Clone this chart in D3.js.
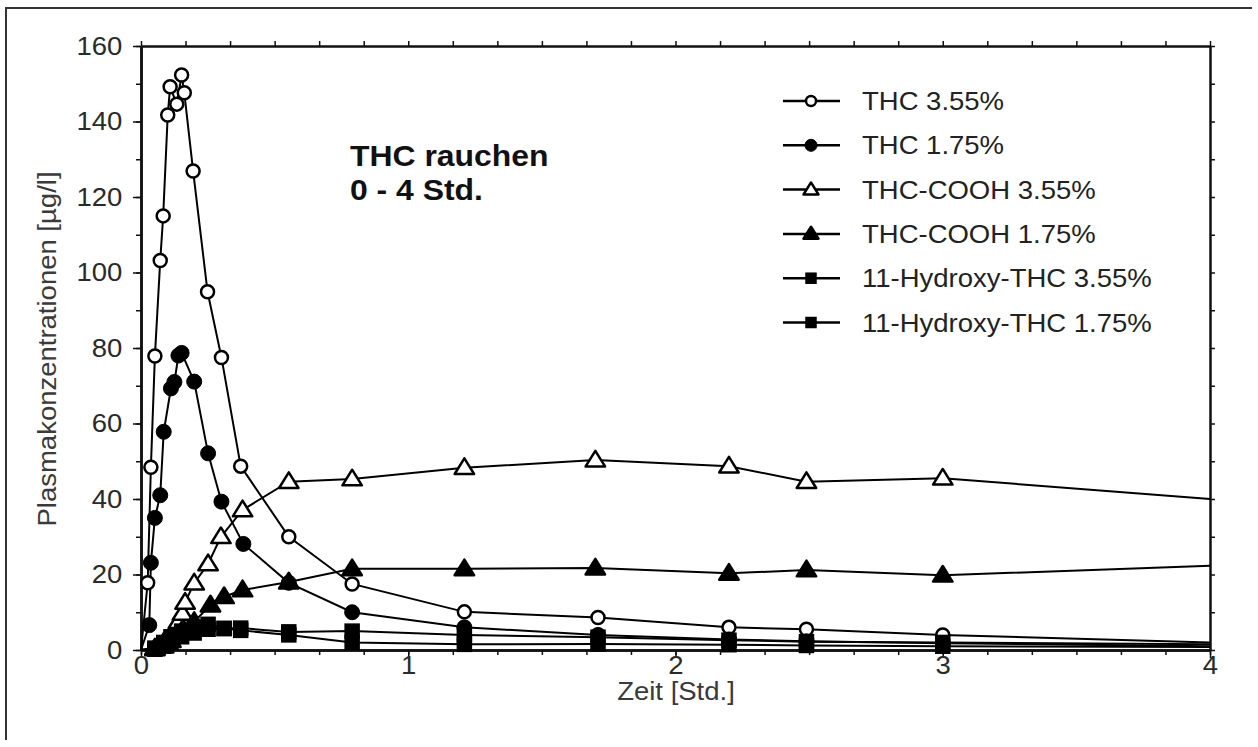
<!DOCTYPE html>
<html>
<head>
<meta charset="utf-8">
<script src="https://cdnjs.cloudflare.com/ajax/libs/d3/7.8.5/d3.min.js"></script>
<style>
body { margin: 0; background: #fff; }
text { font-family: "Liberation Sans", Arial, sans-serif; }
</style>
</head>
<body>
<div id="chart"></div>
<script>
// values (time in hours, concentration in µg/l)
var thc355Time = [0, 0.025, 0.037, 0.052, 0.072, 0.083, 0.100, 0.109, 0.134, 0.152, 0.162, 0.195, 0.249, 0.301, 0.373, 0.553, 0.79, 1.21, 1.71, 2.20, 2.49, 3.0, 4.0];
var thc355Val  = [0, 17.8, 48.4, 77.9, 103.2, 115, 141.7, 149.2, 144.6, 152.3, 147.6, 126.9, 94.9, 77.5, 48.7, 30, 17.5, 10.1, 8.6, 6, 5.5, 4, 2];

var thc175Time = [0, 0.031, 0.037, 0.052, 0.072, 0.085, 0.112, 0.125, 0.14, 0.152, 0.199, 0.251, 0.301, 0.383, 0.553, 0.79, 1.21, 1.71, 2.20, 2.49, 3.0, 4.0];
var thc175Val  = [0, 6.6, 23.1, 35, 41, 57.8, 69.3, 71, 78, 78.7, 71.1, 52.1, 39.3, 28.1, 17.8, 10, 6, 4, 2.8, 2.3, 1.8, 1];

var cooh355Time = [0, 0.052, 0.085, 0.112, 0.14, 0.155, 0.165, 0.199, 0.251, 0.299, 0.38, 0.553, 0.79, 1.21, 1.70, 2.2, 2.49, 3.0, 4.0];
var cooh355Val  = [0, 0.5, 2, 4, 7.5, 9.7, 12.6, 17.7, 22.8, 30, 37.1, 44.6, 45.3, 48.3, 50.3, 48.7, 44.6, 45.5, 40];

var cooh175Time = [0, 0.052, 0.085, 0.112, 0.152, 0.199, 0.26, 0.311, 0.38, 0.553, 0.79, 1.21, 1.70, 2.2, 2.49, 3.0, 4.0];
var cooh175Val  = [0, 0.3, 1, 2.5, 5, 7.5, 11.9, 14.1, 15.9, 18, 21.5, 21.5, 21.7, 20.3, 21.2, 19.8, 22.3];

var oh355Time = [0, 0.052, 0.085, 0.112, 0.152, 0.199, 0.251, 0.311, 0.373, 0.553, 0.79, 1.21, 1.71, 2.2, 2.49, 3.0, 4.0];
var oh355Val  = [0, 0.5, 2, 3.5, 5, 6, 6.8, 5.7, 5.8, 4.8, 5, 4, 3.4, 2.6, 2.2, 2, 1.5];

var oh175Time = [0, 0.052, 0.085, 0.112, 0.152, 0.199, 0.251, 0.311, 0.373, 0.553, 0.79, 1.21, 1.71, 2.2, 2.49, 3.0, 4.0];
var oh175Val  = [0, 0.2, 1, 2, 3.5, 4.5, 5.5, 5.7, 5.2, 4, 2, 1.5, 1.6, 1.4, 1.2, 1, 0.8];

var seriesNames = ["THC 3.55%", "THC 1.75%", "THC-COOH 3.55%", "THC-COOH 1.75%", "11-Hydroxy-THC 3.55%", "11-Hydroxy-THC 1.75%"];
var seriesSymbols = ["circleOpen", "circle", "triangleOpen", "triangle", "square", "square"];

var xTicks = [0, 1, 2, 3, 4];
var yTicks = [0, 20, 40, 60, 80, 100, 120, 140, 160];

var titleLines = ["THC rauchen", "0 - 4 Std."];
var xTitle = "Zeit [Std.]";
var yTitle = "Plasmakonzentrationen [µg/l]";

var series = [
  [thc355Time, thc355Val], [thc175Time, thc175Val],
  [cooh355Time, cooh355Val], [cooh175Time, cooh175Val],
  [oh355Time, oh355Val], [oh175Time, oh175Val]
].map(function (s, i) {
  return {
    name: seriesNames[i],
    sym: seriesSymbols[i],
    pts: s[0].map(function (t, j) { return { t: t, v: s[1][j] }; })
  };
});

var width = 1258, height = 747;
var stretch = "scale(1.1,1)";

var svg = d3.select("#chart").append("svg")
    .attr("width", width)
    .attr("height", height);

// frame of the scan
svg.append("path")
    .attr("d", "M6,740V8H1252")
    .attr("fill", "none")
    .attr("stroke", "#333")
    .attr("stroke-width", 2);

var x = d3.scaleLinear().domain([0, 4]).range([141, 1210]);
var y = d3.scaleLinear().domain([0, 160]).range([650, 46]);

var minorX = d3.range(0, 24.5).map(function (d) { return d / 6; });
var minorY = d3.range(0, 161, 10);

function styleAxis(g) {
  g.select(".domain").attr("stroke", "#111").attr("stroke-width", 2.5);
  g.selectAll(".tick line").attr("stroke", "#111").attr("stroke-width", 1.5);
}

// minor ticks all four sides
svg.append("g").attr("transform", "translate(0,650)")
    .call(d3.axisBottom(x).tickValues(minorX).tickSize(5).tickFormat("").tickSizeOuter(0))
    .call(styleAxis);
svg.append("g").attr("transform", "translate(0,46)")
    .call(d3.axisTop(x).tickValues(minorX).tickSize(5).tickFormat("").tickSizeOuter(0))
    .call(styleAxis);
svg.append("g").attr("transform", "translate(141,0)")
    .call(d3.axisLeft(y).tickValues(minorY).tickSize(5).tickFormat("").tickSizeOuter(0))
    .call(styleAxis);
svg.append("g").attr("transform", "translate(1210,0)")
    .call(d3.axisRight(y).tickValues(minorY).tickSize(5).tickFormat("").tickSizeOuter(0))
    .call(styleAxis);

// major ticks + labels
var xAxis = svg.append("g").attr("transform", "translate(0,650)")
    .call(d3.axisBottom(x).tickValues(xTicks).tickSize(8).tickFormat(d3.format("d")).tickSizeOuter(0))
    .call(styleAxis);
xAxis.selectAll("text")
    .attr("y", 6).attr("dy", "0.71em")
    .attr("transform", stretch)
    .attr("font-size", 25).attr("fill", "#2a2a2a");

var yAxis = svg.append("g").attr("transform", "translate(141,0)")
    .call(d3.axisLeft(y).tickValues(yTicks).tickSize(8).tickPadding(9).tickSizeOuter(0))
    .call(styleAxis);
yAxis.selectAll("text")
    .attr("transform", stretch)
    .attr("font-size", 25).attr("fill", "#2a2a2a");

// axis titles
svg.append("text")
    .attr("transform", "translate(676,700) " + stretch)
    .attr("text-anchor", "middle")
    .attr("font-size", 25)
    .attr("fill", "#3a3a3a")
    .text(xTitle);

svg.append("text")
    .attr("transform", "translate(56,349) rotate(-90) " + stretch)
    .attr("text-anchor", "middle")
    .attr("font-size", 25)
    .attr("fill", "#3a3a3a")
    .text(yTitle);

// inner title
svg.append("g").selectAll("text")
    .data(titleLines)
    .enter().append("text")
    .attr("transform", function (d, i) { return "translate(350," + (166 + i * 34) + ") " + stretch; })
    .attr("font-size", 29)
    .attr("font-weight", "bold")
    .attr("fill", "#111")
    .text(function (d) { return d; });

var line = d3.line()
    .x(function (d) { return x(d.t); })
    .y(function (d) { return y(d.v); });

function drawSymbol(sel, sym, r) {
  if (sym === "circleOpen") {
    sel.append("circle").attr("r", r)
        .attr("fill", "#fff")
        .attr("stroke", "#000").attr("stroke-width", 2.5);
  } else if (sym === "circle") {
    sel.append("circle").attr("r", r + 1)
        .attr("fill", "#000")
        .attr("stroke", "#000").attr("stroke-width", 1);
  } else if (sym === "triangleOpen" || sym === "triangle") {
    var s = r * 1.3;
    sel.append("path")
        .attr("d", "M0," + (-s * 1.1) + "L" + (s * 1.15) + "," + (s * 0.75) + "L" + (-s * 1.15) + "," + (s * 0.75) + "Z")
        .attr("fill", sym === "triangle" ? "#000" : "#fff")
        .attr("stroke", "#000").attr("stroke-width", 2.5)
        .attr("stroke-linejoin", "round");
  } else {
    sel.append("rect")
        .attr("x", -r).attr("y", -r).attr("width", 2 * r).attr("height", 2 * r)
        .attr("fill", "#000").attr("stroke", "#000").attr("stroke-width", 1.5);
  }
}

var plot = svg.append("g");

plot.selectAll("path.series")
    .data(series)
    .enter().append("path")
    .attr("class", "series")
    .attr("d", function (d) { return line(d.pts); })
    .attr("fill", "none")
    .attr("stroke", "#000")
    .attr("stroke-width", 2);

series.forEach(function (s) {
  plot.append("g").selectAll("g")
      .data(s.pts.filter(function (p) { return p.t > 0 && p.t < 4; }))
      .enter().append("g")
      .attr("transform", function (p) { return "translate(" + x(p.t) + "," + y(p.v) + ")"; })
      .each(function () { drawSymbol(d3.select(this), s.sym, s.sym === "square" ? 7 : 6.5); });
});

// legend
var legend = svg.append("g").attr("transform", "translate(783,101)");
var item = legend.selectAll("g")
    .data(series)
    .enter().append("g")
    .attr("transform", function (d, i) { return "translate(0," + (i * 44.3) + ")"; });
item.append("line")
    .attr("x1", 0).attr("x2", 57)
    .attr("stroke", "#000").attr("stroke-width", 2.5);
item.append("g")
    .attr("transform", "translate(28,0)")
    .each(function (d) { drawSymbol(d3.select(this), d.sym, 5); });
item.append("text")
    .attr("transform", "translate(79,9) " + stretch)
    .attr("font-size", 25)
    .attr("fill", "#222")
    .text(function (d) { return d.name; });
</script>
</body>
</html>
